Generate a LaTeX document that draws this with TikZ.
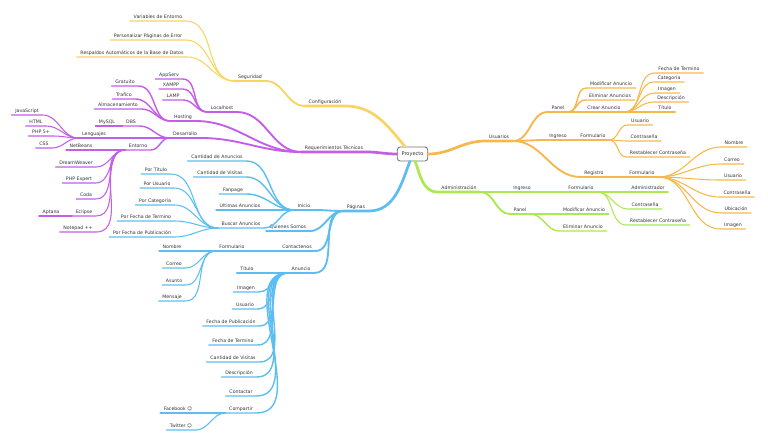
\documentclass[tikz,border=0pt]{standalone}
\usepackage{fontspec}
\setmainfont{DejaVu Sans}
\usetikzlibrary{positioning}

\definecolor{ylw}{RGB}{248,212,98}
\definecolor{prp}{RGB}{196,94,232}
\definecolor{blu}{RGB}{92,190,240}
\definecolor{org}{RGB}{246,184,74}
\definecolor{grn}{RGB}{172,232,80}

\begin{document}
\begin{tikzpicture}[
    x=0.03cm, y=-0.03cm,
    line cap=round,
    topic/.style={anchor=south, inner xsep=3pt, inner ysep=0.8pt, text height=3.1pt, text depth=0.9pt, font=\fontsize{4}{5}\selectfont, text=black!80},
    rootbox/.style={draw=black!55, rounded corners=2.5pt, line width=0.7pt, fill=white, minimum width=26pt, minimum height=12pt, inner sep=1pt, font=\fontsize{4.3}{5}\selectfont, text=black!80},
    lvA/.style={line width=2.3pt},
    lvB/.style={line width=1.6pt},
    lvC/.style={line width=1.2pt},
    lvD/.style={line width=0.9pt}
]
    \useasboundingbox (0,0) rectangle (768,447);

    % ================= ROOT =================
    \node[rootbox] (proy) at (412.5,154) {Proyecto};

    % ================= SEGURIDAD / CONFIGURACION =================
    \node[topic] (conf) at (325,106) {Configuración};
    \node[topic] (segu) at (250,81) {Seguridad};
    \node[topic] (vars) at (158,21) {Variables de Entorno};
    \node[topic] (pers) at (148,40) {Personalizar Páginas de Error};
    \node[topic] (resp) at (132,57) {Respaldos Automáticos de la Base de Datos};

    % ================= REQUERIMIENTOS TECNICOS =================
    \node[topic] (req) at (334,152) {Requerimientos Técnicos};
    \node[topic] (local) at (222,112) {Localhost};
    \node[topic] (host) at (183,121) {Hosting};
    \node[topic] (desa) at (185,138) {Desarrollo};
    \node[topic] (apps) at (169,79) {AppServ};
    \node[topic] (xampp) at (171,89) {XAMPP};
    \node[topic] (lamp) at (173,100) {LAMP};
    \node[topic] (grat) at (125,86) {Gratuito};
    \node[topic] (traf) at (124,99) {Trafico};
    \node[topic] (alma) at (118,109) {Almacenamiento};
    \node[topic] (dbs) at (131,126) {DBS};
    \node[topic] (mysql) at (107,126) {MySQL};
    \node[topic] (leng) at (94,138) {Lenguajes};
    \node[topic] (js) at (27,115) {JavaScript};
    \node[topic] (html) at (36,126) {HTML};
    \node[topic] (php) at (41,136) {PHP 5+};
    \node[topic] (css) at (44,148) {CSS};
    \node[topic] (ento) at (138,150) {Entorno};
    \node[topic] (netb) at (81,150) {NetBeans};
    \node[topic] (dream) at (76,167) {DreamWeaver};
    \node[topic] (phpx) at (79,183) {PHP Expert};
    \node[topic] (coda) at (86,199) {Coda};
    \node[topic] (ecl) at (84,216) {Eclipse};
    \node[topic] (apt) at (51,216) {Aptana};
    \node[topic] (note) at (78,232) {Notepad ++};

    % ================= PAGINAS =================
    \node[topic] (pag) at (356,211) {Páginas};
    \node[topic] (ini) at (304,210) {Inicio};
    \node[topic] (quien) at (288,231) {Quienes Somos};
    \node[topic] (cont) at (297,251) {Contactenos};
    \node[topic] (anun) at (301,273) {Anuncio};
    \node[topic] (cantA) at (217,161) {Cantidad de Anuncios};
    \node[topic] (cantV) at (220,177) {Cantidad de Visitas};
    \node[topic] (fan) at (233,194) {Fanpage};
    \node[topic] (ult) at (240,210) {Ultimas Anuncios};
    \node[topic] (busc) at (241,228) {Buscar Anuncios};
    \node[topic] (ptit) at (156,174) {Por Título};
    \node[topic] (pusu) at (157,188) {Por Usuario};
    \node[topic] (pcat) at (155,205) {Por Categoría};
    \node[topic] (pfter) at (146,221) {Por Fecha de Termino};
    \node[topic] (pfpub) at (142,237) {Por Fecha de Publicación};
    \node[topic] (form) at (232,251) {Formulario};
    \node[topic] (nom) at (172,251) {Nombre};
    \node[topic] (corr) at (174,268) {Correo};
    \node[topic] (asun) at (174,285) {Asunto};
    \node[topic] (mens) at (172,301) {Mensaje};
    \node[topic] (atit) at (247,273) {Título};
    \node[topic] (aimg) at (246,292) {Imagen};
    \node[topic] (ausu) at (245,309) {Usuario};
    \node[topic] (afpub) at (231,326) {Fecha de Publicación};
    \node[topic] (after) at (233,345) {Fecha de Termino};
    \node[topic] (avis) at (233,362) {Cantidad de Visitas};
    \node[topic] (adesc) at (239,377) {Descripción};
    \node[topic] (acont) at (241,396) {Contactar};
    \node[topic] (acomp) at (241,413) {Compartir};
    \node[topic] (fb) at (178,413) {Facebook ☺};
    \node[topic] (tw) at (181,430) {Twitter ☺};

    % ================= USUARIOS =================
    \node[topic] (usu) at (499,141) {Usuarios};
    \node[topic] (panel) at (558,112) {Panel};
    \node[topic] (ingr) at (558,140) {Ingreso};
    \node[topic] (reg) at (594,177) {Registro};
    \node[topic] (modA) at (611,88) {Modificar Anuncio};
    \node[topic] (elimA) at (610,100) {Eliminar Anuncios};
    \node[topic] (crear) at (604,112) {Crear Anuncio};
    \node[topic] (cfter) at (679,73) {Fecha de Termino};
    \node[topic] (ccat) at (669,82) {Categoría};
    \node[topic] (cimg) at (667,93) {Imagen};
    \node[topic] (cdesc) at (671,102) {Descripción};
    \node[topic] (ctit) at (665,112) {Título};
    \node[topic] (iform) at (593,140) {Formulario};
    \node[topic] (iusu) at (640,125) {Usuario};
    \node[topic] (icon) at (644,141) {Contraseña};
    \node[topic] (ires) at (658,157) {Restablecer Contraseña};
    \node[topic] (rform) at (642,177) {Formulario};
    \node[topic] (rnom) at (734,147) {Nombre};
    \node[topic] (rcor) at (732,164) {Correo};
    \node[topic] (rusu) at (733,180) {Usuario};
    \node[topic] (rcon) at (737,197) {Contraseña};
    \node[topic] (rubi) at (736,213) {Ubicación};
    \node[topic] (rimg) at (733,229) {Imagen};

    % ================= ADMINISTRACION =================
    \node[topic] (adm) at (459,192) {Administración};
    \node[topic] (aing) at (522,192) {Ingreso};
    \node[topic] (apan) at (520,214) {Panel};
    \node[topic] (aform) at (581,192) {Formulario};
    \node[topic] (aadm) at (648,192) {Administrador};
    \node[topic] (acon) at (645,209) {Contraseña};
    \node[topic] (ares) at (658,225) {Restablecer Contraseña};
    \node[topic] (amod) at (584,214) {Modificar Anuncio};
    \node[topic] (aeli) at (583,231) {Eliminar Anuncio};

    % ================= CONNECTIONS: LEFT SIDE =================
    \draw[ylw,lvA] (conf.south west) -- (conf.south east) to[out=0,in=130] (proy.135);
    \draw[prp,lvA] (req.south west) -- (req.south east) to[out=0,in=180] (proy.west);
    \draw[blu,lvA] (pag.south west) -- (pag.south east) to[out=0,in=-110] (proy.-110);

    \foreach \c/\p in {segu/conf}
        \draw[ylw,lvB] (\c.south west) -- (\c.south east) to[out=0,in=180] (\p.south west);
    \foreach \c/\p in {vars/segu, pers/segu, resp/segu}
        \draw[ylw,lvD] (\c.south west) -- (\c.south east) to[out=0,in=180] (\p.south west);

    \foreach \c/\p in {local/req, host/req, desa/req}
        \draw[prp,lvB] (\c.south west) -- (\c.south east) to[out=0,in=180] (\p.south west);
    \foreach \c/\p in {apps/local, xampp/local, lamp/local, grat/host, traf/host, alma/host, dbs/desa, leng/desa, ento/desa}
        \draw[prp,lvC] (\c.south west) -- (\c.south east) to[out=0,in=180] (\p.south west);
    \foreach \c/\p in {mysql/dbs, js/leng, html/leng, php/leng, css/leng, netb/ento, dream/ento, phpx/ento, coda/ento, ecl/ento, note/ento, apt/ecl}
        \draw[prp,lvD] (\c.south west) -- (\c.south east) to[out=0,in=180] (\p.south west);

    \foreach \c/\p in {ini/pag, quien/pag, cont/pag, anun/pag}
        \draw[blu,lvB] (\c.south west) -- (\c.south east) to[out=0,in=180] (\p.south west);
    \foreach \c/\p in {cantA/ini, cantV/ini, fan/ini, ult/ini, busc/ini, form/cont, atit/anun, aimg/anun, ausu/anun, afpub/anun, after/anun, avis/anun, adesc/anun, acont/anun, acomp/anun}
        \draw[blu,lvC] (\c.south west) -- (\c.south east) to[out=0,in=180] (\p.south west);
    \foreach \c/\p in {ptit/busc, pusu/busc, pcat/busc, pfter/busc, pfpub/busc, nom/form, corr/form, asun/form, mens/form, fb/acomp, tw/acomp}
        \draw[blu,lvD] (\c.south west) -- (\c.south east) to[out=0,in=180] (\p.south west);

    % ================= CONNECTIONS: RIGHT SIDE =================
    \draw[org,lvA] (usu.south east) -- (usu.south west) to[out=180,in=0] (proy.east);
    \draw[grn,lvA] (adm.south east) -- (adm.south west) to[out=180,in=-70] (proy.-70);

    \foreach \c/\p in {panel/usu, ingr/usu, reg/usu}
        \draw[org,lvB] (\c.south east) -- (\c.south west) to[out=180,in=0] (\p.south east);
    \foreach \c/\p in {modA/panel, elimA/panel, crear/panel, iform/ingr, rform/reg}
        \draw[org,lvC] (\c.south east) -- (\c.south west) to[out=180,in=0] (\p.south east);
    \foreach \c/\p in {cfter/crear, ccat/crear, cimg/crear, cdesc/crear, ctit/crear, iusu/iform, icon/iform, ires/iform, rnom/rform, rcor/rform, rusu/rform, rcon/rform, rubi/rform, rimg/rform}
        \draw[org,lvD] (\c.south east) -- (\c.south west) to[out=180,in=0] (\p.south east);

    \foreach \c/\p in {aing/adm, apan/adm}
        \draw[grn,lvB] (\c.south east) -- (\c.south west) to[out=180,in=0] (\p.south east);
    \foreach \c/\p in {aform/aing, amod/apan, aeli/apan}
        \draw[grn,lvC] (\c.south east) -- (\c.south west) to[out=180,in=0] (\p.south east);
    \foreach \c/\p in {aadm/aform, acon/aform, ares/aform}
        \draw[grn,lvD] (\c.south east) -- (\c.south west) to[out=180,in=0] (\p.south east);

\end{tikzpicture}
\end{document}
